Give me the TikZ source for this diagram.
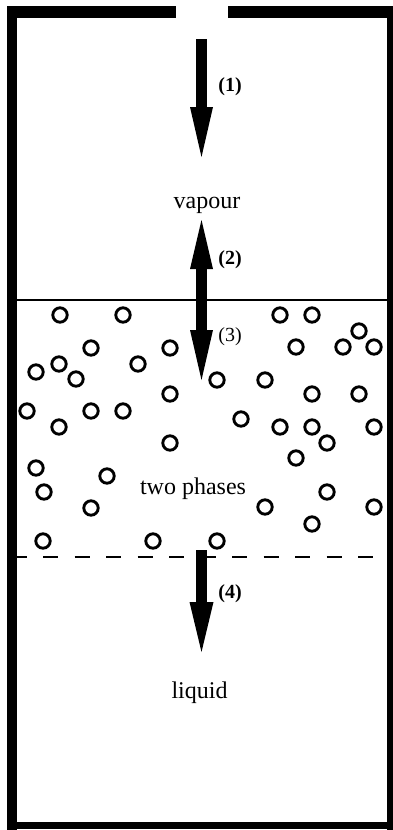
\documentclass[tikz,border=0pt]{standalone}
\usepackage{fontspec}
\setmainfont{Liberation Serif}
\begin{document}
\begin{tikzpicture}[x=1pt,y=-1pt,
  wall/.style={fill=black},
  bubble/.style={draw=black,line width=2.9pt,fill=none},
  bigarrow/.style={fill=black},
  phase/.style={font=\fontsize{24}{28}\selectfont,anchor=base,inner sep=0pt},
  num/.style={font=\fontsize{20}{24}\selectfont\bfseries,inner sep=0pt},
  numr/.style={font=\fontsize{20}{24}\selectfont,inner sep=0pt}]
\useasboundingbox (0,0) rectangle (393,830);
% walls
\fill[wall] (7,6) rectangle (17,830);
\fill[wall] (7,6) rectangle (176,18);
\fill[wall] (228,6) rectangle (393,18);
\fill[wall] (387,6) rectangle (393,830);
\fill[wall] (7,822) rectangle (393,829);
% interfaces
\draw[line width=1.5pt] (17,300) -- (387,300);
\draw[line width=2.6pt,dash pattern=on 15pt off 16.5pt,dash phase=5.5pt] (17,557) -- (387,557);
% bubbles
\foreach \x/\y in {60/315,123/315,280/315,312/315,359/331,
  91/348,170/348,296/347,343/347,374/347,
  59/364,36/372,76/379,138/364,217/380,265/380,
  170/394,312/394,359/394,
  27/411,91/411,123/411,241/419,
  59/427,280/427,312/427,374/427,
  170/443,327/443,296/458,
  36/468,107/476,44/492,327/492,
  91/508,265/507,374/507,312/524,
  43/541,153/541,217/541}
  \draw[bubble] (\x,\y) circle[radius=7.2];
% arrows
\fill[bigarrow] (196,39) rectangle (207,108);
\fill[bigarrow] (190,107) -- (213,107) -- (201.5,157) -- cycle;
\fill[bigarrow] (196,268) rectangle (207,331);
\fill[bigarrow] (190,269) -- (213,269) -- (201.5,220) -- cycle;
\fill[bigarrow] (190,330) -- (213,330) -- (201.5,380) -- cycle;
\fill[bigarrow] (196,550) rectangle (207,603);
\fill[bigarrow] (189.5,602) -- (213.5,602) -- (201.5,652) -- cycle;
% labels
\node[num] (n1) at (230,87) {(1)};
\node[num] (n2) at (230,260) {(2)};
\node[numr] (n3) at (230,337) {(3)};
\node[num] (n4) at (230,594) {(4)};
\node[phase] (vap) at (207,208) {vapour};
\node[phase] (two) at (193,494) {two phases};
\node[phase] (liq) at (199.5,698) {liquid};
\end{tikzpicture}
\end{document}
